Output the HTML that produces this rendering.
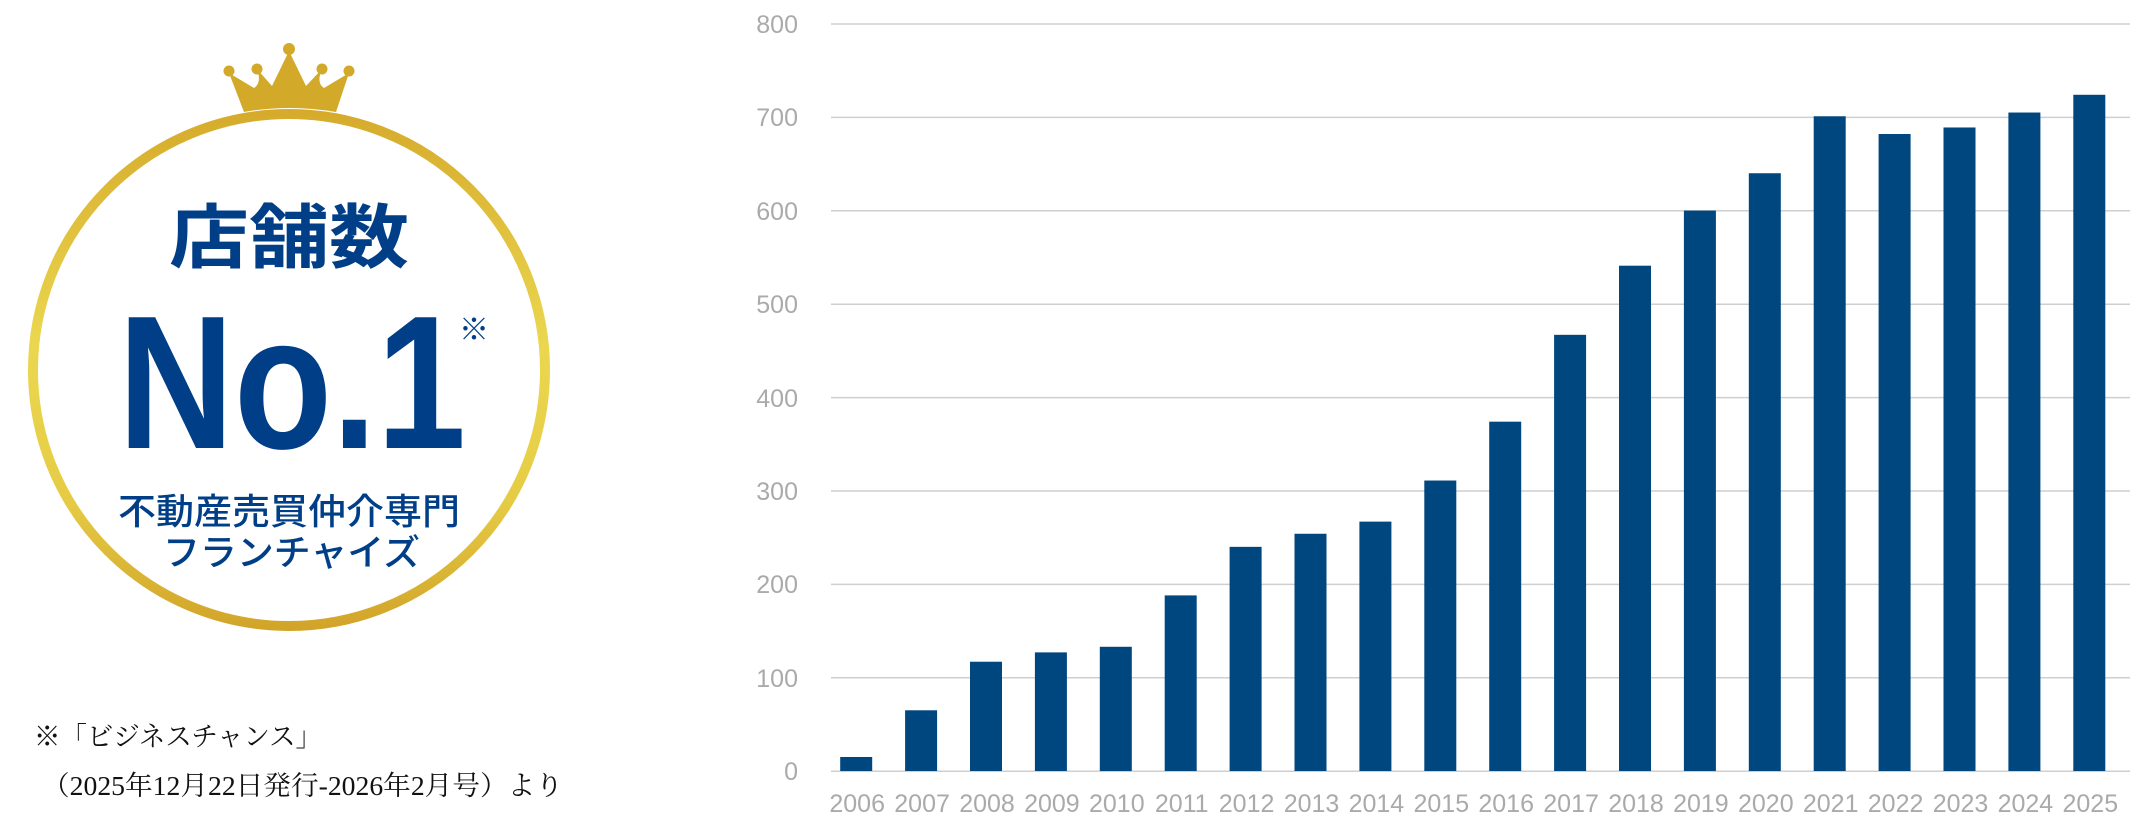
<!DOCTYPE html>
<html><head><meta charset="utf-8"><style>html,body{margin:0;padding:0;background:#fff}svg{display:block}</style></head>
<body>
<svg width="2138" height="833" viewBox="0 0 2138 833" xmlns="http://www.w3.org/2000/svg">
<defs>
<linearGradient id="g" x1="0" y1="0" x2="0" y2="1">
<stop offset="0" stop-color="#d6ab2c"/><stop offset="0.45" stop-color="#ebd74f"/><stop offset="0.75" stop-color="#e6cc45"/><stop offset="1" stop-color="#d2a52a"/>
</linearGradient>
</defs>
<circle cx="289" cy="370" r="256" fill="none" stroke="url(#g)" stroke-width="10"/>
<g fill="#d3a92a">
<path d="M229,73 L244,112 Q289,104 336,112 L349,73 L324,88 Q316,83 322,69 L306,86 L289,51 L272,86 L257,69 Q262,83 254,88 Z"/>
<circle cx="229" cy="71" r="5.5"/><circle cx="257" cy="69" r="5.5"/><circle cx="289" cy="49" r="6"/><circle cx="322" cy="69" r="5.5"/><circle cx="349" cy="71" r="5.5"/>
</g>
<g fill="#003f87" font-family="'Liberation Sans','Noto Sans CJK JP',sans-serif" font-weight="bold">
<text x="289" y="262" font-size="70" text-anchor="middle" textLength="240" lengthAdjust="spacingAndGlyphs">店舗数</text>
<text x="118" y="448" font-size="190" textLength="348" lengthAdjust="spacingAndGlyphs">No.1</text>
<text x="459" y="340" font-size="30" font-weight="normal">※</text>
<text x="118" y="524" font-size="36" font-weight="500" textLength="342" lengthAdjust="spacingAndGlyphs">不動産売買仲介専門</text>
<text x="163" y="565" font-size="36" font-weight="500" textLength="257" lengthAdjust="spacingAndGlyphs">フランチャイズ</text>
</g>
<g fill="#111" font-family="'Liberation Serif','Noto Serif CJK SC',serif" font-size="27">
<text x="34" y="746" textLength="288" lengthAdjust="spacingAndGlyphs">※「ビジネスチャンス」</text>
<text x="42" y="795" textLength="521" lengthAdjust="spacingAndGlyphs">（2025年12月22日発行-2026年2月号）より</text>
</g>
<g stroke="#cfcfcf" stroke-width="1.5">
<line x1="831" x2="2130" y1="24" y2="24"/><line x1="831" x2="2130" y1="117.4" y2="117.4"/><line x1="831" x2="2130" y1="210.8" y2="210.8"/><line x1="831" x2="2130" y1="304.2" y2="304.2"/><line x1="831" x2="2130" y1="397.6" y2="397.6"/><line x1="831" x2="2130" y1="491" y2="491"/><line x1="831" x2="2130" y1="584.4" y2="584.4"/><line x1="831" x2="2130" y1="677.8" y2="677.8"/><line x1="831" x2="2130" y1="771.2" y2="771.2"/>
</g>
<g fill="#aaaaaa" font-family="'Liberation Sans',sans-serif" font-size="25" text-anchor="end">
<text x="798" y="33">800</text><text x="798" y="126">700</text><text x="798" y="220">600</text><text x="798" y="313">500</text><text x="798" y="407">400</text><text x="798" y="500">300</text><text x="798" y="593">200</text><text x="798" y="687">100</text><text x="798" y="780">0</text>
</g>
<g id="bars" fill="#00467f"></g>
<g id="xl" fill="#aaaaaa" font-family="'Liberation Sans',sans-serif" font-size="25" text-anchor="middle"></g>
<script>
var v=[15,65,117,127,133,188,240,254,267,311,374,467,541,600,640,701,682,689,705,724];
var b=document.getElementById('bars'),l=document.getElementById('xl'),ns='http://www.w3.org/2000/svg';
v.forEach(function(d,i){var c=856.2+64.9*i,h=d*0.934;
var r=document.createElementNS(ns,'rect');r.setAttribute('x',c-16);r.setAttribute('width',32);r.setAttribute('y',771-h);r.setAttribute('height',h);b.appendChild(r);
var t=document.createElementNS(ns,'text');t.setAttribute('x',c+1);t.setAttribute('y',812);t.textContent=2006+i;l.appendChild(t);});
</script>
</svg>
</body></html>
